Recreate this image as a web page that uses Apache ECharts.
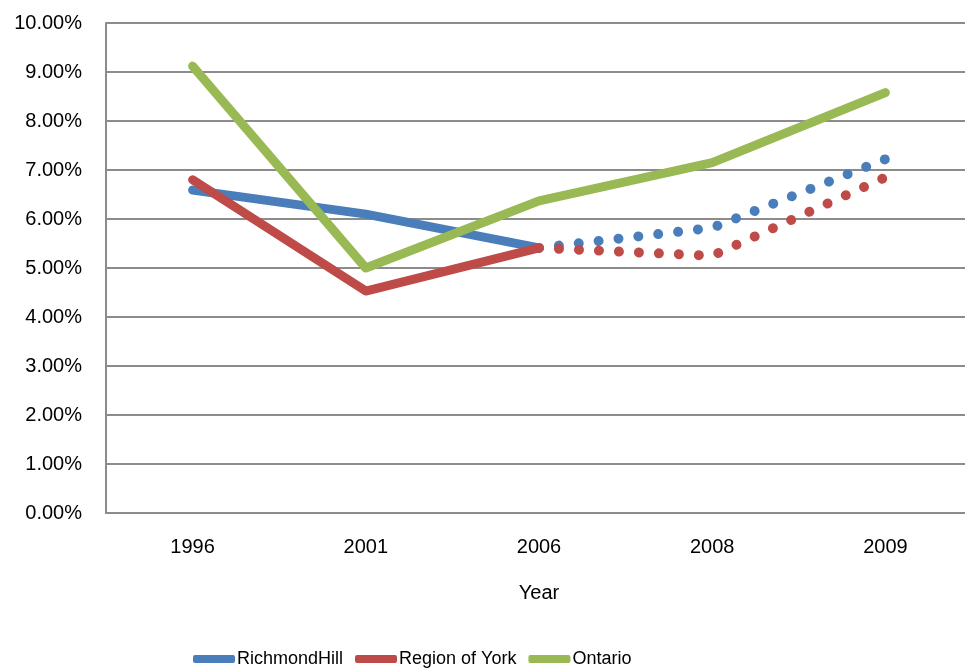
<!DOCTYPE html>
<html>
<head>
<meta charset="utf-8">
<script src="https://cdn.jsdelivr.net/npm/echarts@6/dist/echarts.min.js"></script>
<style>
  html, body { margin: 0; padding: 0; background: #fff; overflow: hidden; }
  /* plot area runs past the right edge of the window */
  #chart { width: 980px; height: 668px; }
</style>
</head>
<body>
<div id="chart"></div>
<script>
// Unemployment rate by year (percent)
const categories = ['1996', '2001', '2006', '2008', '2009'];
const richmondHill = [6.59, 6.10, 5.41, 5.82, 7.22];
const regionOfYork = [6.80, 4.53, 5.41, 5.25, 6.85];
const ontario = [9.12, 5.00, 6.37, 7.15, 8.58];
const yTicks = [0, 1, 2, 3, 4, 5, 6, 7, 8, 9, 10];
// Values after this index are projections and drawn dotted
const lastActualIndex = 2;

const COLORS = { rh: '#4a7ebb', york: '#be4b48', ont: '#98b954' };
const FONT = '"Liberation Sans", Arial, Helvetica, sans-serif';

function actualPart(values) {
  return values.map((v, i) => (i <= lastActualIndex ? v : null));
}
function projectedPart(values) {
  return values.map((v, i) => (i >= lastActualIndex ? v : null));
}

function solidSeries(name, color, values) {
  return {
    name, type: 'line', data: values, symbol: 'none', color,
    lineStyle: { color, width: 9, cap: 'round', join: 'round' },
    z: 3
  };
}
function dottedSeries(name, color, values) {
  return {
    name, type: 'line', data: values, symbol: 'none', color,
    lineStyle: { color, width: 10, cap: 'round', join: 'round', type: [0.01, 19.99] },
    z: 2
  };
}

const chart = echarts.init(document.getElementById('chart'), null, { renderer: 'canvas' });
chart.setOption({
  animation: false,
  backgroundColor: '#ffffff',
  textStyle: { fontFamily: FONT, color: '#000' },
  grid: { left: 106, top: 23, right: 8, height: 490, containLabel: false },
  xAxis: {
    type: 'category',
    data: categories,
    boundaryGap: true,
    name: 'Year',
    nameLocation: 'middle',
    nameGap: 70,
    nameTextStyle: { fontFamily: FONT, fontSize: 20, color: '#000' },
    axisLine: { show: true, lineStyle: { color: '#8c8c8c', width: 2 } },
    axisTick: { show: false },
    axisLabel: { fontFamily: FONT, fontSize: 20, color: '#000', margin: 24 }
  },
  yAxis: {
    type: 'value',
    min: yTicks[0],
    max: yTicks[yTicks.length - 1],
    interval: 1,
    axisLine: { show: true, lineStyle: { color: '#8c8c8c', width: 2 } },
    axisTick: { show: false },
    splitLine: { show: true, lineStyle: { color: '#8c8c8c', width: 2 } },
    axisLabel: {
      fontFamily: FONT, fontSize: 20, color: '#000', margin: 24,
      formatter: v => v.toFixed(2) + '%'
    }
  },
  legend: {
    data: ['RichmondHill', 'Region of York', 'Ontario'],
    left: 188,
    top: 645,
    icon: 'roundRect',
    itemWidth: 42,
    itemHeight: 8,
    itemGap: 12,
    textStyle: {
      fontFamily: '"Liberation Sans Narrow", "Arial Narrow", ' + FONT,
      fontSize: 18, color: '#000', padding: [0, 0, 0, -3]
    }
  },
  series: [
    solidSeries('RichmondHill', COLORS.rh, actualPart(richmondHill)),
    dottedSeries('RichmondHill', COLORS.rh, projectedPart(richmondHill)),
    solidSeries('Region of York', COLORS.york, actualPart(regionOfYork)),
    dottedSeries('Region of York', COLORS.york, projectedPart(regionOfYork)),
    solidSeries('Ontario', COLORS.ont, ontario)
  ]
});
</script>
</body>
</html>
